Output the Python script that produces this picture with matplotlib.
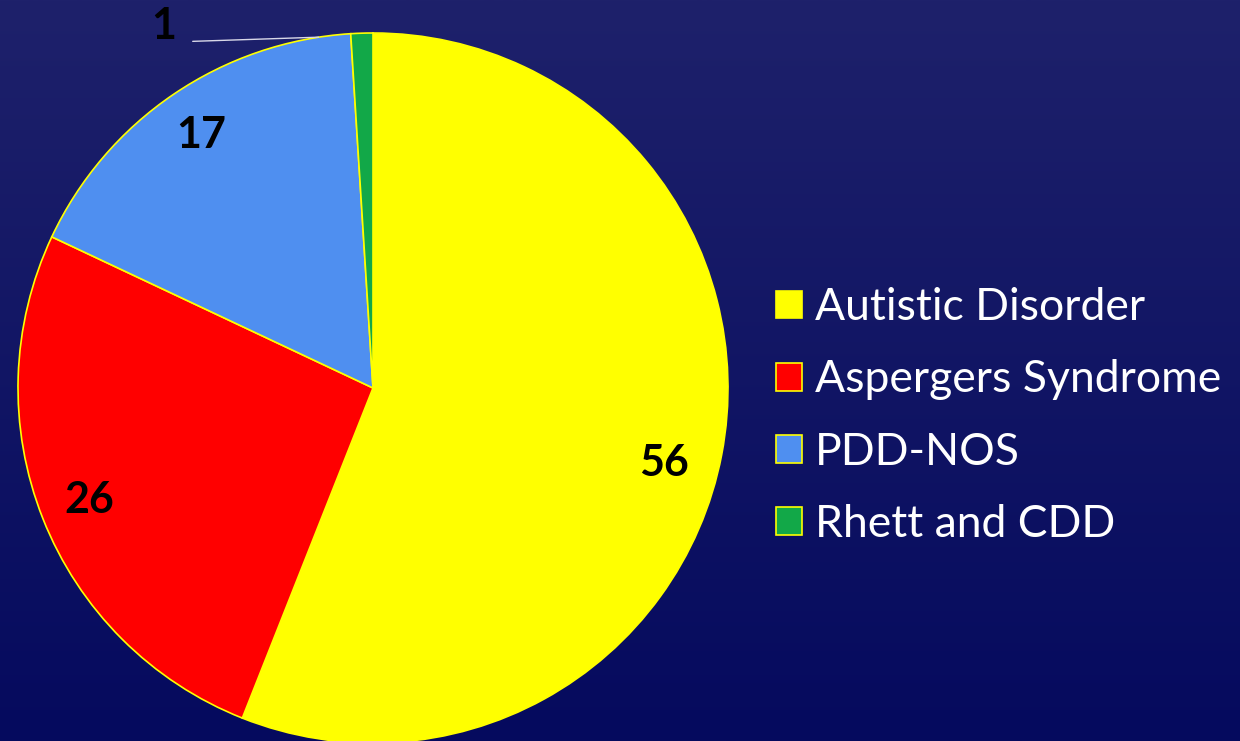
import matplotlib.pyplot as plt
import numpy as np
from matplotlib.colors import LinearSegmentedColormap

categories = ["Autistic Disorder", "Aspergers Syndrome", "PDD-NOS", "Rhett and CDD"]
values = [56, 26, 17, 1]
colors = ["#ffff00", "#ff0000", "#4f8ff0", "#12a848"]

BG_TOP = "#1e216b"
BG_BOTTOM = "#050a5e"

W, H = 1240, 741
fig = plt.figure(figsize=(W / 100, H / 100), dpi=100)

# vertical gradient background
bg = fig.add_axes([0, 0, 1, 1])
cmap = LinearSegmentedColormap.from_list("bg", [BG_BOTTOM, BG_TOP])
bg.imshow(np.linspace(0, 1, 256).reshape(-1, 1), aspect="auto", cmap=cmap,
          origin="lower", extent=[0, 1, 0, 1])
bg.set_axis_off()

# pie axes: centre (373, 388) px, radius 355 px
cx, cy, r = 373, 388, 355
ax = fig.add_axes([(cx - r) / W, (H - cy - r) / H, 2 * r / W, 2 * r / H])
ax.set_axis_off()

wedges, texts = ax.pie(
    values, colors=colors, startangle=90, counterclock=False,
    labels=[str(v) for v in values], labeldistance=0.86,
    wedgeprops=dict(edgecolor="#ffff00", linewidth=1.2),
    textprops=dict(fontsize=31, fontweight="bold", color="black",
                   family="Lato", ha="center", va="center"),
    radius=1.0,
)
ax.set_xlim(-1, 1)
ax.set_ylim(-1, 1)

# nudge the big label like the original
texts[0].set_position((0.82, -0.21))

# small slice: label outside with a leader line
texts[3].set_visible(False)
small = wedges[3]
ang = np.deg2rad((small.theta1 + small.theta2) / 2 + 7)
ax.annotate(
    str(values[3]), xy=(np.cos(ang), np.sin(ang)), xytext=(-0.59, 1.02),
    fontsize=31, fontweight="bold", family="Lato", color="black",
    ha="center", va="center", annotation_clip=False,
    arrowprops=dict(arrowstyle="-", color="#d8d8e8", linewidth=1.0,
                    relpos=(1.0, 0.1), shrinkA=10, shrinkB=0),
)

leg = fig.legend(
    wedges, categories, loc="center left", bbox_to_anchor=(776 / W, 1 - 416 / H),
    frameon=False, borderpad=0, borderaxespad=0,
    handlelength=0.58, handleheight=0.58, handletextpad=0.3, labelspacing=0.7,
    prop=dict(family="Lato", size=32),
)
for t in leg.get_texts():
    t.set_color("white")

fig.savefig("out.png", dpi=100)
